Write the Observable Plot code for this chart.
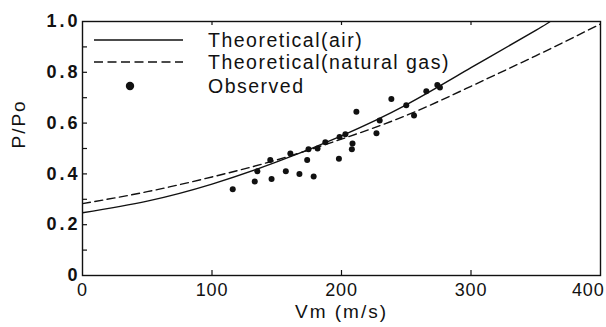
<!DOCTYPE html>
<html>
<head>
<meta charset="utf-8">
<script src="https://cdn.jsdelivr.net/npm/d3@7"></script>
<script src="https://cdn.jsdelivr.net/npm/@observablehq/plot@0.6"></script>
<style>
  html, body { margin: 0; padding: 0; background: #fff; }
  svg { font-family: "Liberation Sans", Arial, sans-serif; }
</style>
</head>
<body>
<div id="chart"></div>
<script>
// ---- data ----
const xTicks = [0, 100, 200, 300, 400];
const yTicks = [0, 0.2, 0.4, 0.6, 0.8, 1.0];
const xInnerTicks = [100, 200, 300];
const yInnerTicks = [0.1, 0.2, 0.3, 0.4, 0.5, 0.6, 0.7, 0.8, 0.9];

const xLabel = "Vm (m/s)";
const yLabel = "P/Po";
const legendLabels = ["Theoretical(air)", "Theoretical(natural gas)", "Observed"];

// Theoretical (air) – solid
const airV = [0, 50, 100, 150, 200, 250, 300, 350, 361];
const airP = [0.247, 0.293, 0.36, 0.447, 0.55, 0.672, 0.818, 0.965, 1.0];

// Theoretical (natural gas) – dashed
const gasV = [0, 50, 100, 150, 200, 250, 300, 350, 400];
const gasP = [0.283, 0.33, 0.388, 0.455, 0.537, 0.63, 0.745, 0.865, 0.99];

// Observed points
const obsV = [116, 133, 135, 145, 146, 157, 160.5, 167.5, 173.5, 174.5, 178.5, 181.5, 187.5,
              198, 198.5, 203, 208, 208.5, 211.5, 227, 229.5, 238.5, 250, 256, 265.5, 274, 276];
const obsP = [0.34, 0.37, 0.41, 0.455, 0.38, 0.41, 0.48, 0.40, 0.455, 0.497, 0.39, 0.50, 0.525,
              0.46, 0.545, 0.556, 0.497, 0.52, 0.645, 0.56, 0.61, 0.695, 0.67, 0.63, 0.725, 0.75, 0.74];

const air = airV.map((v, i) => ({v, p: airP[i]}));
const gas = gasV.map((v, i) => ({v, p: gasP[i]}));
const obs = obsV.map((v, i) => ({v, p: obsP[i]}));

const W = 606, H = 327;
const mL = 82, mR = 6, mT = 21, mB = 52;
const fw = W - mL - mR, fh = H - mT - mB;

const chart = Plot.plot({
  width: W,
  height: H,
  marginLeft: mL,
  marginRight: mR,
  marginTop: mT,
  marginBottom: mB,
  style: {fontFamily: "Liberation Sans, Arial, sans-serif", color: "#111", background: "#fff", overflow: "visible"},
  x: {domain: [0, 400]},
  y: {domain: [0, 1]},
  marks: [
    Plot.line(air, {x: "v", y: "p", curve: "natural", stroke: "#111", strokeWidth: 1.4, clip: true}),
    Plot.line(gas, {x: "v", y: "p", curve: "natural", stroke: "#111", strokeWidth: 1.4, strokeDasharray: "8,4.5", clip: true}),
    Plot.dot(obs, {x: "v", y: "p", r: 3, fill: "#111", stroke: "none"}),
    Plot.tickY(yInnerTicks, {y: d => d, insetRight: fw - 5, stroke: "#111", strokeWidth: 1.2}),
    Plot.tickX(xInnerTicks, {x: d => d, insetTop: fh - 5, stroke: "#111", strokeWidth: 1.2}),
    Plot.tickX(xInnerTicks, {x: d => d, insetBottom: fh - 4, stroke: "#111", strokeWidth: 1.2}),
    Plot.axisX({ticks: xTicks, tickSize: 0, tickPadding: 8, fontSize: 18, label: null, tickFormat: d => String(d)}),
    Plot.axisY({ticks: yTicks, tickSize: 0, tickPadding: 5, fontSize: 18, label: null,
                tickFormat: d => d === 0 ? "0" : d.toFixed(1)}),
    Plot.text([xLabel], {frameAnchor: "bottom", dy: 42, fontSize: 19, fill: "#111"}),
    Plot.text([yLabel], {frameAnchor: "left", dx: -64, rotate: -90, fontSize: 19, fill: "#111"}),
    Plot.frame({stroke: "#111", strokeWidth: 1.4})
  ]
});

document.getElementById("chart").appendChild(chart);

const svg = d3.select(chart);
// typography similar to the reference
svg.selectAll('g[aria-label="x-axis tick label"] text')
  .attr("font-size", 18).style("letter-spacing", "0.8px")
  .each(function () {
    if (this.textContent.trim() === "400") d3.select(this).attr("text-anchor", "end").attr("dx", 4);
  });
svg.selectAll('g[aria-label="y-axis tick label"] text')
  .attr("font-size", 18).attr("font-weight", "bold").style("letter-spacing", "3px").attr("dx", 3);
svg.selectAll('g[aria-label="text"] text').style("letter-spacing", "2px");

// legend (layout only)
const lg = svg.append("g").attr("aria-label", "legend").attr("text-anchor", "start");
const lx1 = mL + 12, lx2 = mL + 101, tx = mL + 126;
const rows = [mT + 19, mT + 41, mT + 65];
lg.append("line").attr("x1", lx1).attr("x2", lx2).attr("y1", rows[0]).attr("y2", rows[0])
  .attr("stroke", "#111").attr("stroke-width", 1.4);
lg.append("line").attr("x1", lx1).attr("x2", lx2).attr("y1", rows[1]).attr("y2", rows[1])
  .attr("stroke", "#111").attr("stroke-width", 1.4).attr("stroke-dasharray", "9,4.5");
lg.append("circle").attr("cx", mL + 48).attr("cy", rows[2]).attr("r", 4.2).attr("fill", "#111");
legendLabels.forEach((t, i) => {
  lg.append("text").attr("x", tx).attr("y", rows[i]).attr("dy", "0.35em")
    .attr("text-anchor", "start")
    .attr("font-size", 19.5).attr("fill", "#111").style("letter-spacing", "1.5px").text(t);
});
</script>
</body>
</html>
